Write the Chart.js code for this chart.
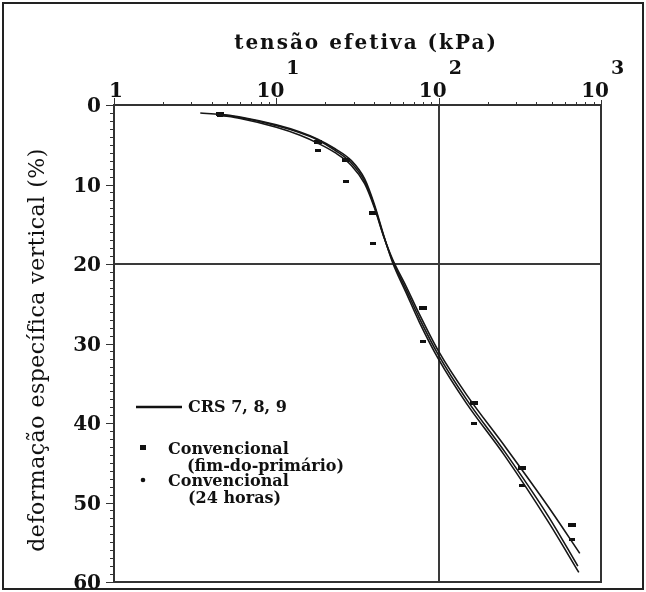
<!DOCTYPE html>
<html>
<head>
<meta charset="utf-8">
<script src="https://cdn.jsdelivr.net/npm/chart.js@4.4.1/dist/chart.umd.min.js"></script>
<style>
html,body{margin:0;padding:0;background:#fff;}
#wrap{width:646px;height:592px;}
</style>
</head>
<body>
<div id="wrap"><canvas id="chart" width="646" height="592"></canvas></div>
<script>
// ensaios CRS: tensão efetiva (kPa) x deformação específica vertical (%)
const crs7Stress = [3.4, 4.5, 6, 8, 10, 14, 18, 23, 29, 35, 40, 46, 52, 63, 76, 100, 148, 255, 476, 720];
const crs7Strain = [1.0, 1.2, 1.6, 2.1, 2.6, 3.5, 4.4, 5.7, 7.3, 9.6, 12.6, 16.6, 19.6, 23.2, 26.8, 31.5, 37.0, 43.6, 51.8, 58.0];
const crs8Stress = [4.5, 6, 10, 14, 18, 23, 29, 35, 40, 46, 52, 63, 76, 100, 148, 255, 476, 740];
const crs8Strain = [1.3, 1.7, 2.8, 3.8, 4.8, 6.0, 7.6, 9.9, 12.8, 16.6, 19.4, 22.8, 26.3, 31.0, 36.4, 42.9, 50.6, 56.4];
const crs9Stress = [4.3, 6, 10, 14, 18, 23, 29, 35, 40, 46, 52, 63, 76, 100, 148, 255, 476, 730];
const crs9Strain = [1.1, 1.5, 2.5, 3.4, 4.3, 5.5, 7.0, 9.3, 12.4, 16.5, 19.8, 23.6, 27.3, 32.0, 37.5, 44.1, 52.5, 58.8];

// ensaios convencionais (estágios de carga)
const convStress = [4.5, 18, 27, 39.5, 80, 164, 324, 661];
const primStrain = [1.1, 4.6, 6.9, 13.6, 25.5, 37.5, 45.7, 52.8];
const h24Strain  = [1.3, 5.7, 9.6, 17.4, 29.7, 40.0, 47.8, 54.7];

const xTicks = [1, 10, 100, 1000];
const xTickBase = ["1", "10", "10", "10"];
const xTickExp  = ["", "1", "2", "3"];
const yTicks = [0, 10, 20, 30, 40, 50, 60];
const xTitle = "tensão efetiva (kPa)";
const yTitle = "deformação específica vertical (%)";
const legendLine = "CRS 7, 8, 9";
const legendPrim = ["Convencional", "(fim-do-primário)"];
const legendH24  = ["Convencional", "(24 horas)"];

const pts = (xs, ys) => xs.map((v, i) => ({x: v, y: ys[i]}));

function dash(w, h) {
  const c = document.createElement("canvas");
  c.width = w; c.height = h;
  const g = c.getContext("2d");
  g.fillStyle = "#111";
  g.fillRect(0, 0, w, h);
  return c;
}

const SERIF = '"DejaVu Serif", "Liberation Serif", serif';

function line(ctx, x1, y1, x2, y2) {
  ctx.beginPath(); ctx.moveTo(x1, y1); ctx.lineTo(x2, y2); ctx.stroke();
}

const decor = {
  id: "decor",
  afterDraw(chart) {
    const {ctx, chartArea: a, scales: {x, y}} = chart;
    ctx.save();
    ctx.strokeStyle = "#222";
    ctx.lineWidth = 2;
    ctx.strokeRect(3, 3, 640, 586);

    // moldura do gráfico
    ctx.strokeStyle = "#333";
    ctx.strokeRect(a.left, a.top, a.right - a.left, a.bottom - a.top);

    // marcas do eixo superior (log)
    ctx.lineWidth = 1;
    for (let d = 1; d < 1000; d *= 10) {
      for (let m = 1; m <= 9; m++) {
        const px = Math.round(x.getPixelForValue(d * m)) + 0.5;
        line(ctx, px, a.top, px, a.top - (m === 1 ? 7 : 3));
      }
    }
    const pEnd = Math.round(x.getPixelForValue(1000)) + 0.5;
    line(ctx, pEnd, a.top, pEnd, a.top - 5);

    // marcas do eixo vertical
    for (let v = 0; v <= 60; v++) {
      const py = Math.round(y.getPixelForValue(v)) + 0.5;
      line(ctx, a.left, py, a.left - (v % 10 === 0 ? 8 : 4), py);
    }

    ctx.fillStyle = "#111";
    // rótulos do eixo x
    ctx.textBaseline = "alphabetic";
    xTicks.forEach((v, i) => {
      const px = x.getPixelForValue(v);
      ctx.font = "bold 20px " + SERIF;
      if (!xTickExp[i]) {
        ctx.textAlign = "center";
        ctx.fillText(xTickBase[i], px + 2, 97);
      } else {
        ctx.textAlign = "right";
        ctx.fillText(xTickBase[i], px + 8, 97);
        ctx.textAlign = "left";
        ctx.font = "bold 19px " + SERIF;
        ctx.fillText(xTickExp[i], px + 10, 74);
      }
    });

    // título do eixo x
    ctx.font = "bold 20px " + SERIF;
    ctx.textAlign = "center";
    ctx.letterSpacing = "2px";
    ctx.fillText(xTitle, 366, 49);
    ctx.letterSpacing = "0px";

    // rótulos do eixo y
    ctx.font = "bold 20px " + SERIF;
    ctx.textAlign = "right";
    ctx.textBaseline = "middle";
    yTicks.forEach(v => ctx.fillText(String(v), a.left - 13, y.getPixelForValue(v) + 2));

    // título do eixo y
    ctx.save();
    ctx.translate(38, 350);
    ctx.rotate(-Math.PI / 2);
    ctx.font = "22px " + SERIF;
    ctx.letterSpacing = "0.5px";
    ctx.textAlign = "center";
    ctx.fillText(yTitle, 0, 0);
    ctx.restore();

    // legenda
    ctx.strokeStyle = "#111";
    ctx.lineWidth = 2.5;
    line(ctx, 136, 407, 182, 407);
    ctx.font = "bold 16px " + SERIF;
    ctx.textAlign = "left";
    ctx.textBaseline = "middle";
    ctx.fillText(legendLine, 188, 408);
    ctx.fillRect(140, 445, 6, 5);
    ctx.fillText(legendPrim[0], 168, 450);
    ctx.fillText(legendPrim[1], 187, 467);
    ctx.beginPath(); ctx.arc(143, 480, 2.3, 0, Math.PI * 2); ctx.fill();
    ctx.fillText(legendH24[0], 168, 482);
    ctx.fillText(legendH24[1], 188, 499);
    ctx.restore();
  }
};

const curve = (data) => ({
  type: "line", data, borderColor: "#161616", borderWidth: 1.6,
  pointRadius: 0, cubicInterpolationMode: "monotone", fill: false
});

new Chart(document.getElementById("chart"), {
  data: {
    datasets: [
      curve(pts(crs7Stress, crs7Strain)),
      curve(pts(crs8Stress, crs8Strain)),
      curve(pts(crs9Stress, crs9Strain)),
      {type: "scatter", data: pts(convStress, primStrain), pointStyle: dash(8, 4), pointRadius: 4},
      {type: "scatter", data: pts(convStress, h24Strain), pointStyle: dash(6, 3), pointRadius: 3}
    ]
  },
  options: {
    responsive: false,
    animation: false,
    devicePixelRatio: 1,
    layout: {padding: {left: 114, top: 105, right: 45, bottom: 10}},
    plugins: {legend: {display: false}, tooltip: {enabled: false}},
    scales: {
      x: {
        type: "logarithmic", position: "top", min: 1, max: 1000,
        afterBuildTicks: s => { s.ticks = xTicks.map(v => ({value: v})); },
        ticks: {display: false},
        grid: {drawTicks: false, lineWidth: 2,
               color: c => c.tick && c.tick.value === 100 ? "#3a3a3a" : "rgba(0,0,0,0)"},
        border: {display: false}
      },
      y: {
        type: "linear", reverse: true, min: 0, max: 60,
        afterBuildTicks: s => { s.ticks = yTicks.map(v => ({value: v})); },
        ticks: {display: false},
        grid: {drawTicks: false, lineWidth: 2,
               color: c => c.tick && c.tick.value === 20 ? "#3a3a3a" : "rgba(0,0,0,0)"},
        border: {display: false}
      }
    }
  },
  plugins: [decor]
});
</script>
</body>
</html>
